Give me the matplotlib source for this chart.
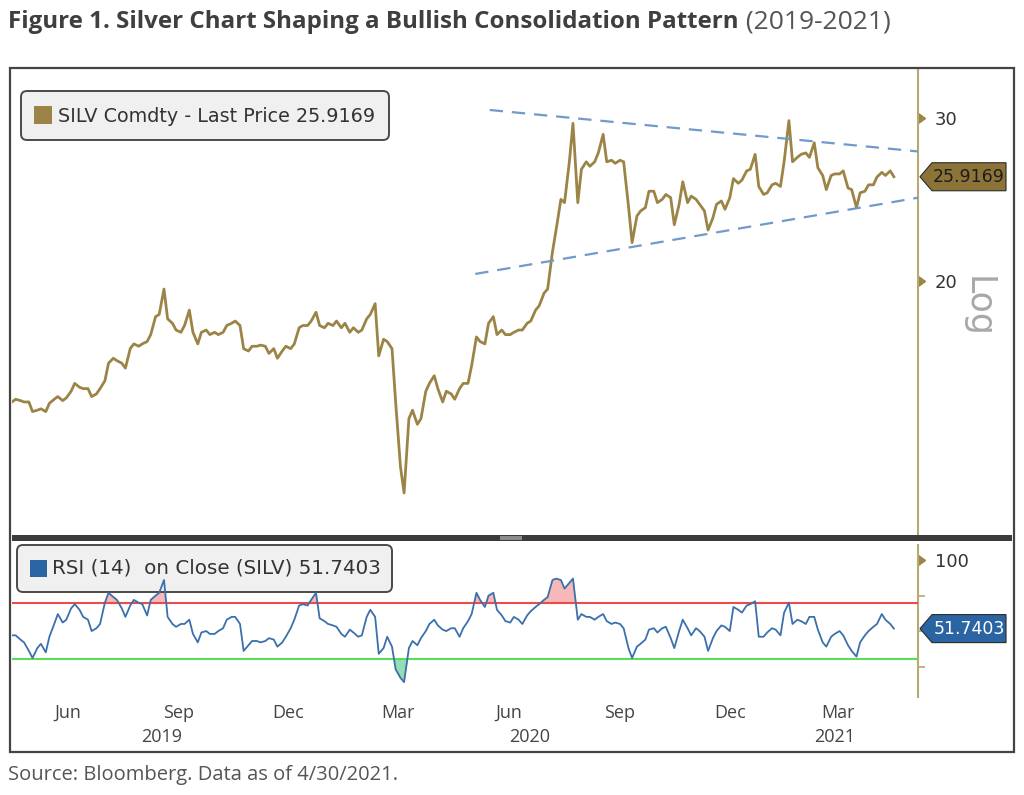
import matplotlib
matplotlib.use("Agg")
import matplotlib.pyplot as plt
import matplotlib.transforms as mtransforms
from matplotlib import font_manager
from matplotlib.patches import Rectangle, FancyBboxPatch, Polygon
from matplotlib.ticker import FixedLocator, NullLocator
import numpy as np
import pandas as pd

W, H = 1024, 795

TITLE = "Figure 1. Silver Chart Shaping a Bullish Consolidation Pattern"
TITLE_RANGE = " (2019-2021)"
SOURCE = "Source: Bloomberg. Data as of 4/30/2021."
PRICE_LEGEND = "SILV Comdty - Last Price 25.9169"
RSI_LEGEND = "RSI (14)  on Close (SILV) 51.7403"

# one Tuesday and one Friday reading per week, May 2019 .. 30 Apr 2021
FRIDAYS = pd.date_range("2019-05-03", "2021-04-30", freq="W-FRI")
DATES = sorted(list(FRIDAYS - pd.Timedelta(days=3)) + list(FRIDAYS))

PRICE = [
    14.8, 14.9, 14.85, 14.8, 14.8, 14.45, 14.5, 14.55, 14.45, 14.75,   # May 2019
    14.9, 15.0, 14.85, 14.95, 15.2, 15.5, 15.35, 15.3,                  # Jun
    15.3, 15.0, 15.1, 15.3, 15.6, 16.3, 16.5, 16.4,                     # Jul
    16.3, 16.1, 16.9, 17.1, 17.0, 17.1, 17.2, 17.5, 18.3, 18.4,         # Aug
    19.6, 18.2, 18.0, 17.7, 17.6, 17.9, 18.6, 17.6,                     # Sep
    17.1, 17.6, 17.7, 17.5, 17.6, 17.5, 17.6, 17.9,                     # Oct
    18.0, 18.1, 17.9, 16.9, 16.8, 17.0, 17.0, 17.05, 17.0, 16.7,        # Nov
    16.9, 16.5, 16.8, 17.0, 16.9, 17.1, 17.8, 17.9,                     # Dec
    17.9, 18.1, 18.5, 17.9, 17.8, 18.0, 17.9, 18.1, 17.8, 18.0,         # Jan 2020
    17.6, 17.8, 17.6, 17.7, 18.2, 18.4, 18.9, 16.6,                     # Feb
    17.3, 17.2, 16.9, 14.8, 12.6, 11.8, 14.2, 14.5,                     # Mar
    14.0, 14.2, 15.2, 15.5, 15.8, 15.3, 14.8, 15.2,                     # Apr
    15.1, 14.9, 15.3, 15.5, 15.5, 16.2, 17.4, 17.2, 17.1, 18.0,         # May
    18.3, 17.5, 17.7, 17.5, 17.5, 17.6, 17.7, 17.7,                     # Jun
    18.0, 18.1, 18.6, 18.8, 19.4, 19.6, 21.5, 22.7, 24.5, 24.3,         # Jul
    26.9, 29.6, 24.3, 26.4, 26.9, 26.6, 26.9, 27.5,                     # Aug
    28.8, 26.9, 27.0, 26.8, 27.0, 26.9, 24.1, 22.0,                     # Sep
    23.5, 23.8, 24.0, 25.0, 25.0, 24.3, 24.5, 24.8, 24.6, 23.0,         # Oct
    24.2, 25.6, 24.3, 24.7, 24.5, 24.2, 23.8, 22.7,                     # Nov
    23.4, 24.2, 24.4, 23.9, 24.6, 25.8, 25.5, 25.7,                     # Dec
    26.3, 26.4, 27.4, 25.3, 24.8, 24.9, 25.4, 25.5, 25.3, 26.9,         # Jan 2021
    29.8, 26.9, 27.2, 27.4, 27.5, 27.2, 28.2, 26.5,                     # Feb
    26.0, 25.1, 26.0, 26.1, 26.1, 26.3, 25.2, 25.1,                     # Mar
    24.0, 24.9, 25.0, 25.4, 25.4, 25.9, 26.2, 26.0, 26.3, 25.9169,      # Apr
]

RSI = [
    47, 47, 44, 42, 36, 31, 38, 41, 35, 46,          # May 2019
    55, 62, 56, 58, 66, 69, 65, 60,                  # Jun
    58, 50, 52, 55, 70, 77, 74, 72,                  # Jul
    66, 60, 68, 72, 70, 69, 61, 72, 75, 77,          # Aug
    86, 60, 55, 53, 55, 55, 58, 48,                  # Sep
    42, 49, 50, 48, 48, 50, 52, 58,                  # Oct
    60, 60, 55, 36, 40, 43, 43, 42, 43, 45,          # Nov
    44, 39, 42, 46, 52, 58, 68, 69,                  # Dec
    68, 72, 77, 59, 57, 55, 54, 53, 48, 46,          # Jan 2020
    51, 49, 46, 47, 60, 65, 60, 34,                  # Feb
    38, 46, 39, 23, 17, 14, 38, 43,                  # Mar
    40, 45, 50, 55, 58, 54, 51, 50,                  # Apr
    52, 52, 46, 52, 57, 62, 77, 72, 67, 75,          # May
    77, 65, 61, 57, 56, 60, 58, 55,                  # Jun
    61, 64, 67, 69, 72, 74, 86, 87, 86, 80,          # Jul
    84, 87, 58, 62, 60, 60, 58, 60,                  # Aug
    62, 57, 55, 56, 55, 52, 38, 31,                  # Sep
    39, 41, 44, 51, 52, 49, 52, 53, 45, 38,          # Oct
    50, 58, 52, 47, 52, 50, 46, 36,                  # Nov
    45, 50, 54, 53, 50, 67, 65, 63,                  # Dec
    68, 69, 71, 46, 46, 49, 52, 51, 47, 63,          # Jan 2021
    70, 55, 58, 57, 55, 60, 60, 51,                  # Feb
    42, 39, 46, 48, 50, 47, 40, 36,                  # Mar
    32, 42, 47, 50, 53, 55, 62, 58, 55, 51.7403,     # Apr
]

LAST_PRICE = 25.9169
LAST_RSI = 51.7403

UPPER_TREND_DATES = ["2020-05-30", "2021-05-20"]
UPPER_TREND = [30.6, 27.6]
LOWER_TREND_DATES = ["2020-05-18", "2021-05-20"]
LOWER_TREND = [20.35, 24.6]

MONTH_TICKS = ["2019-06-15", "2019-09-15", "2019-12-15", "2020-03-15",
               "2020-06-15", "2020-09-15", "2020-12-15", "2021-03-15"]
MONTH_LABELS = ["Jun", "Sep", "Dec", "Mar", "Jun", "Sep", "Dec", "Mar"]
YEAR_POS = ["2019-09-01", "2020-07-02", "2021-03-12"]
YEAR_LABELS = ["2019", "2020", "2021"]

PRICE_TICKS = [20, 30]
RSI_TICKS = [100]
RSI_MINOR = [25, 50, 75]
OVERBOUGHT, OVERSOLD = 70, 30

GOLD = "#9b8446"
TAN = "#b8a872"
TAG_GOLD = "#8c7438"
BLUE = "#3a70ab"
TAG_BLUE = "#2b64a2"
DASH = "#6f9acb"
RED = "#ef4a4a"
GREEN = "#5cdc5c"

_names = {f.name for f in font_manager.fontManager.ttflist}
COND = "Liberation Sans Narrow" if "Liberation Sans Narrow" in _names else "Open Sans"
plt.rcParams["font.family"] = ["DejaVu Sans"]


def px_rect(x0, y0, x1, y1):
    return [x0 / W, 1 - y1 / H, (x1 - x0) / W, (y1 - y0) / H]


def main():
    fig = plt.figure(figsize=(W / 100, H / 100), dpi=100)
    PX = mtransforms.Affine2D().scale(1 / W, 1 / H) + fig.transFigure

    ax = fig.add_axes(px_rect(12, 70, 918, 535))
    ax_rsi = fig.add_axes(px_rect(12, 545, 918, 697))

    xlim = (pd.Timestamp("2019-04-30"), pd.Timestamp("2021-05-20"))
    for a in (ax, ax_rsi):
        for s in ("top", "left", "bottom"):
            a.spines[s].set_visible(False)
        a.spines["right"].set_color(TAN)
        a.spines["right"].set_linewidth(1.5)
        a.set_xlim(*xlim)
        a.yaxis.tick_right()

    # price panel
    ax.plot(DATES, PRICE, color=GOLD, lw=2.0, zorder=3)
    ax.plot(pd.to_datetime(UPPER_TREND_DATES), UPPER_TREND, color=DASH, lw=1.6,
            dashes=(6, 4), zorder=4)
    ax.plot(pd.to_datetime(LOWER_TREND_DATES), LOWER_TREND, color=DASH, lw=1.6,
            dashes=(6, 4), zorder=4)
    ax.set_yscale("log")
    ax.set_ylim(10.63, 33.8)
    ax.yaxis.set_major_locator(FixedLocator(PRICE_TICKS))
    ax.yaxis.set_minor_locator(NullLocator())
    ax.set_yticklabels([str(t) for t in PRICE_TICKS])
    ax.tick_params(axis="y", length=0, pad=12, labelsize=13, labelcolor="#333333")
    ax.tick_params(axis="x", length=0, labelbottom=False)
    ax.plot([1] * len(PRICE_TICKS), PRICE_TICKS, ls="none", marker=9, ms=7,
            color=GOLD, transform=ax.get_yaxis_transform(), clip_on=False)

    # RSI panel
    rsi = np.array(RSI, dtype=float)
    ax_rsi.plot(DATES, rsi, color=BLUE, lw=1.3, zorder=4)
    ax_rsi.fill_between(DATES, rsi, OVERBOUGHT, where=rsi > OVERBOUGHT,
                        interpolate=True, color="#f6b8b8", lw=0, zorder=2)
    ax_rsi.fill_between(DATES, rsi, OVERSOLD, where=rsi < OVERSOLD,
                        interpolate=True, color="#96dcb4", lw=0, zorder=2)
    ax_rsi.axhline(OVERBOUGHT, color=RED, lw=1.5, zorder=3)
    ax_rsi.axhline(OVERSOLD, color=GREEN, lw=1.5, zorder=3)
    ax_rsi.set_ylim(3.5, 110.7)
    ax_rsi.yaxis.set_major_locator(FixedLocator(RSI_TICKS))
    ax_rsi.yaxis.set_minor_locator(FixedLocator(RSI_MINOR))
    ax_rsi.set_yticklabels([str(t) for t in RSI_TICKS])
    ax_rsi.tick_params(axis="y", which="major", length=0, pad=12, labelsize=13,
                       labelcolor="#333333")
    ax_rsi.tick_params(axis="y", which="minor", length=5, width=1.2, color=TAN)
    ax_rsi.plot([1] * len(RSI_TICKS), RSI_TICKS, ls="none", marker=9, ms=7,
                color=GOLD, transform=ax_rsi.get_yaxis_transform(), clip_on=False)

    ax_rsi.set_xticks(pd.to_datetime(MONTH_TICKS))
    ax_rsi.set_xticklabels(MONTH_LABELS, family=COND, fontsize=13, color="#444444")
    ax_rsi.tick_params(axis="x", length=0, pad=5)
    for pos, lab in zip(pd.to_datetime(YEAR_POS), YEAR_LABELS):
        ax_rsi.text(pos, -0.26, lab, transform=ax_rsi.get_xaxis_transform(),
                    ha="center", va="center", family=COND, fontsize=13,
                    color="#444444")

    # outer frame and panel separator
    fig.patches.append(Rectangle((10, H - 752), 1004, 684, transform=PX,
                                 fill=False, ec="#444444", lw=1.6))
    fig.patches.append(Rectangle((12, H - 541), 1000, 6, transform=PX,
                                 fc="#3c3c3c", ec="none"))
    fig.patches.append(Rectangle((500, H - 540), 22, 4, transform=PX,
                                 fc="#8c8c8c", ec="none"))

    # legend boxes
    fig.patches.append(FancyBboxPatch((21, H - 140), 368, 49,
                                      boxstyle="round,pad=0,rounding_size=6",
                                      transform=PX, fc="#f0f0f0", ec="#4a4a4a", lw=1.4))
    fig.patches.append(Rectangle((34, H - 124), 18, 18, transform=PX, fc=GOLD, ec="none"))
    fig.text(58 / W, 1 - 116 / H, PRICE_LEGEND, fontsize=13.8, color="#333333",
             va="center")

    box = FancyBboxPatch((17, H - 592), 375, 47, boxstyle="round,pad=0,rounding_size=6",
                         transform=PX, fc="#f0f0f0", ec="#4a4a4a", lw=1.4, zorder=3.5)
    ax_rsi.add_artist(box)
    box.set_clip_on(False)
    sq = Rectangle((30, H - 577), 17, 17, transform=PX, fc=TAG_BLUE, ec="none", zorder=3.6)
    ax_rsi.add_artist(sq)
    sq.set_clip_on(False)
    ax_rsi.text(52, H - 568, RSI_LEGEND, transform=PX, fontsize=14.3, color="#333333",
                va="center", zorder=3.6, clip_on=False)

    # last-value tags on the right axis
    def tag(axis, value, fc, tc, label):
        yc = axis.transData.transform((0, value))[1]
        pts = [(920, yc), (932, yc + 14), (1006, yc + 14), (1006, yc - 14), (932, yc - 14)]
        fig.patches.append(Polygon(pts, closed=True, transform=PX, fc=fc,
                                   ec="#2a2a2a", lw=0.8))
        fig.text(969 / W, yc / H, label, fontsize=12.5, color=tc, ha="center",
                 va="center")

    tag(ax, LAST_PRICE, TAG_GOLD, "#1c1c1c", f"{LAST_PRICE:.4f}")
    tag(ax_rsi, LAST_RSI, TAG_BLUE, "white", f"{LAST_RSI:.4f}")

    fig.text(978 / W, 1 - 307 / H, "Log", rotation=270, fontsize=25, color="#a8a8a8",
             ha="center", va="center")

    # title and source
    t = fig.text(8 / W, 1 - 22 / H, TITLE, fontsize=17.4, weight="bold", family=COND,
                 color="#3f3f3f", va="center")
    bb = t.get_window_extent(renderer=fig.canvas.get_renderer())
    fig.text(bb.x1 / W, 1 - 22 / H, TITLE_RANGE, fontsize=19, family=COND,
             color="#555555", va="center")
    fig.text(8 / W, 1 - 775 / H, SOURCE, fontsize=14.5, family=COND, color="#555555",
             va="center")

    fig.savefig("out.png", dpi=100, facecolor="white")
    plt.close(fig)


if __name__ == "__main__":
    main()
